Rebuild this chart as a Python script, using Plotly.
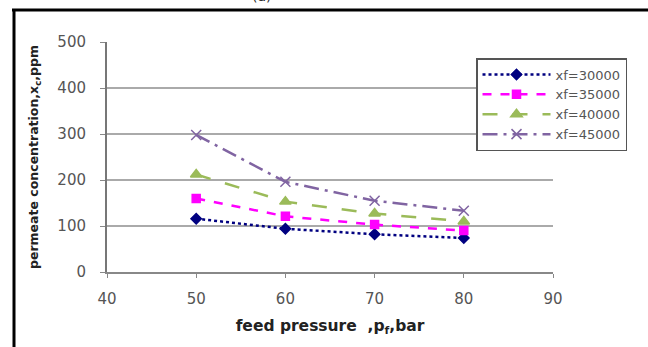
import plotly.graph_objects as go

pressure = [50, 60, 70, 80]
xf30000 = [116, 94, 82, 74]
xf35000 = [160, 121, 103, 90]
xf40000 = [212, 153, 127, 110]
xf45000 = [298, 196, 155, 133]
series_names = ["xf=30000", "xf=35000", "xf=40000", "xf=45000"]
x_ticks = [40, 50, 60, 70, 80, 90]
y_ticks = [0, 100, 200, 300, 400, 500]

W, H = 648, 347
L, R, T, B = 107, 95, 42, 75
pw, ph = W - L - R, H - T - B

def px_x(p):
    return (p - L) / pw

def px_y(p):
    return (H - B - p) / ph

FONT = "DejaVu Sans"

fig = go.Figure()
styles = [
    dict(color="#000080", dash="dot", symbol="diamond", size=8),
    dict(color="#FF00FF", dash="dash", symbol="square", size=8),
    dict(color="#9BBB59", dash="longdash", symbol="triangle-up", size=10),
    dict(color="#8064A2", dash="longdashdot", symbol="x-thin-open", size=10),
]
for name, ys, st in zip(series_names, [xf30000, xf35000, xf40000, xf45000], styles):
    fig.add_trace(go.Scatter(
        x=pressure, y=ys, name=name, mode="lines+markers",
        line=dict(color=st["color"], dash=st["dash"], width=2.5),
        marker=dict(symbol=st["symbol"], size=st["size"], color=st["color"],
                    line=dict(color=st["color"], width=1.5)),
    ))

fig.update_layout(
    width=W, height=H,
    margin=dict(l=L, r=R, t=T, b=B),
    paper_bgcolor="white", plot_bgcolor="white",
    font=dict(family=FONT, size=15, color="#555"),
    showlegend=True,
    legend=dict(
        x=px_x(476), y=px_y(58), xanchor="left", yanchor="top",
        bgcolor="white", bordercolor="#555", borderwidth=1.5,
        font=dict(family=FONT, size=13, color="#555"),
        tracegroupgap=0, itemwidth=68,
    ),
    xaxis=dict(
        range=[40, 90], tickvals=x_ticks, showgrid=False,
        showline=True, linecolor="#888", linewidth=2,
        ticks="outside", ticklen=4, tickcolor="#888",
        ticklabelstandoff=8,
        tickfont=dict(family=FONT, size=15, color="#555"),
        title=dict(text="<b>feed pressure  ,p<sub>f</sub>,bar</b>",
                   font=dict(family=FONT, size=15.5, color="#222"), standoff=13),
        zeroline=False,
    ),
    yaxis=dict(
        range=[0, 500], tickvals=y_ticks, showgrid=True,
        gridcolor="#aaa", gridwidth=2,
        showline=True, linecolor="#777", linewidth=2,
        ticks="outside", ticklen=5, tickcolor="#888",
        ticklabelstandoff=11,
        tickfont=dict(family=FONT, size=15, color="#555"),
        title=dict(text="<b>permeate concentration,x<sub>c</sub>,ppm</b>",
                   font=dict(family=FONT, size=12.5, color="#222"), standoff=16),
        zeroline=False,
    ),
    shapes=[
        dict(type="line", xref="paper", yref="paper",
             x0=px_x(12), x1=px_x(648), y0=px_y(10), y1=px_y(10),
             line=dict(color="black", width=3)),
        dict(type="line", xref="paper", yref="paper",
             x0=px_x(14), x1=px_x(14), y0=px_y(10), y1=px_y(347),
             line=dict(color="black", width=3)),
    ],
    annotations=[
        dict(text="(a)", xref="paper", yref="paper", x=px_x(262), y=px_y(6),
             xanchor="center", yanchor="bottom", showarrow=False,
             font=dict(family=FONT, size=14, color="#222")),
    ],
)

fig.write_html("out.html")
